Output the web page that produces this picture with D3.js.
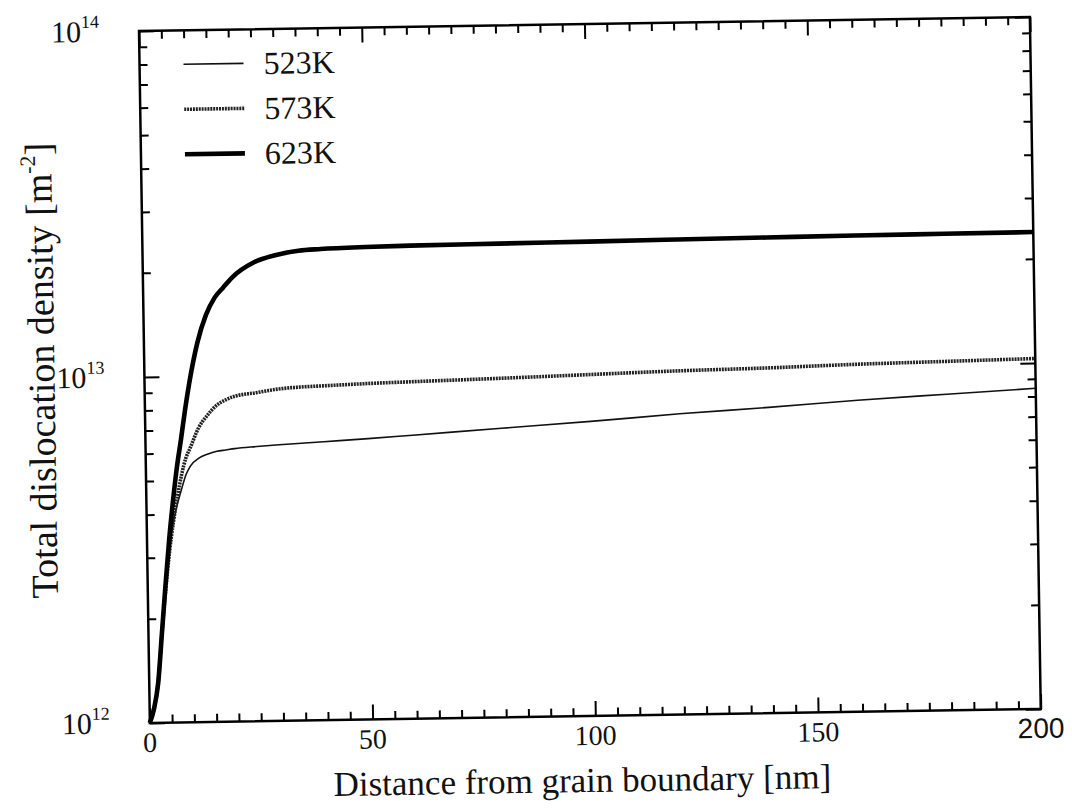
<!DOCTYPE html>
<html>
<head>
<meta charset="utf-8">
<script src="https://cdn.jsdelivr.net/npm/d3@7/dist/d3.min.js"></script>
<style>
  html, body { margin: 0; padding: 0; background: #fff; }
  svg { display: block; }
  text { font-family: "Liberation Serif", "Times New Roman", serif; fill: #111; }
</style>
</head>
<body>
<svg id="chart" width="1072" height="808"></svg>
<script>
// Distance from the grain boundary [nm]
const distance = [0, 1, 2, 3, 4, 5, 6, 7, 8, 9, 10, 12, 14, 16, 18, 20, 25, 30, 35, 40, 50, 60, 80, 100, 120, 140, 160, 180, 200];

// Total dislocation density, in units of 1e12 m^-2
const rho523 = [1.0, 1.1, 1.3, 1.8, 2.4, 3.1, 3.8, 4.3, 4.75, 5.2, 5.5, 5.8, 5.95, 6.05, 6.1, 6.15, 6.22, 6.28, 6.33, 6.38, 6.48, 6.6, 6.85, 7.1, 7.4, 7.65, 7.95, 8.2, 8.45];
const rho573 = [1.0, 1.1, 1.3, 1.8, 2.4, 3.1, 3.8, 4.5, 5.2, 5.8, 6.2, 7.1, 7.7, 8.2, 8.5, 8.7, 8.9, 9.1, 9.2, 9.25, 9.35, 9.42, 9.55, 9.7, 9.85, 9.95, 10.1, 10.2, 10.3];
const rho623 = [1.0, 1.1, 1.3, 1.8, 2.5, 3.4, 4.4, 5.5, 6.6, 8.0, 9.5, 12.5, 15.0, 16.8, 18.0, 19.2, 21.2, 22.2, 22.8, 23.0, 23.2, 23.3, 23.4, 23.5, 23.6, 23.7, 23.8, 23.85, 23.9];
const densityUnit = 1e12;

const seriesNames = ["523K", "573K", "623K"];
const xMajorTicks = [0, 50, 100, 150, 200];
const yDecades = [12, 13, 14];

const xLabel = "Distance from grain boundary [nm]";
const yLabel = "Total dislocation density [m";

// ---- layout -------------------------------------------------------------
const W = 891, H = 692;          // plot frame
const originX = 139, originY = 31;
const tilt = -0.9;               // the figure sits slightly askew

const svg = d3.select("#chart");
const g = svg.append("g")
  .attr("transform", `translate(${originX},${originY}) rotate(${tilt})`);

const x = d3.scaleLinear().domain([0, 200]).range([0, W]);
const y = d3.scaleLog().domain([1e12, 1e14]).range([H, 0]);

// ---- ticks (all pointing inward) ---------------------------------------
const xMinor = d3.range(0, 201, 5).filter(v => v % 50 !== 0);
const yMinor = [];
yDecades.slice(0, -1).forEach(d => { for (let k = 2; k <= 9; k++) yMinor.push(k * Math.pow(10, d)); });
const yMajor = yDecades.map(d => Math.pow(10, d));

const minorLen = 8, majorLen = 15;

function tickAxis(axisFn, scale, values, len, transform) {
  const a = g.append("g").attr("transform", transform)
    .call(axisFn(scale).tickValues(values).tickSize(len).tickFormat(""));
  a.select(".domain").remove();
  a.selectAll("line").attr("stroke", "#000").attr("stroke-width", 2);
}
tickAxis(d3.axisBottom, x, xMinor, -minorLen, `translate(0,${H})`);
tickAxis(d3.axisBottom, x, xMajorTicks, -majorLen, `translate(0,${H})`);
tickAxis(d3.axisTop, x, xMinor, -minorLen, `translate(0,0)`);
tickAxis(d3.axisTop, x, xMajorTicks, -majorLen, `translate(0,0)`);
tickAxis(d3.axisLeft, y, yMinor, -minorLen, `translate(0,0)`);
tickAxis(d3.axisLeft, y, yMajor, -majorLen, `translate(0,0)`);
tickAxis(d3.axisRight, y, yMinor, -minorLen, `translate(${W},0)`);
tickAxis(d3.axisRight, y, yMajor, -majorLen, `translate(${W},0)`);

// frame
g.append("rect").attr("x", 0).attr("y", 0).attr("width", W).attr("height", H)
  .attr("fill", "none").attr("stroke", "#000").attr("stroke-width", 2.5);

// ---- curves ---------------------------------------------------------------
const styles = {
  "523K": { width: 1.6, color: "#111", dash: null },
  "573K": { width: 3.6, color: "#222", dash: "2,0.9" },
  "623K": { width: 4.6, color: "#000", dash: null }
};
const seriesValues = { "523K": rho523, "573K": rho573, "623K": rho623 };

const line = d3.line()
  .x(d => x(d[0]))
  .y(d => y(d[1]))
  .curve(d3.curveMonotoneX);

seriesNames.forEach(name => {
  const pts = distance.map((d, i) => [d, seriesValues[name][i] * densityUnit]);
  const s = styles[name];
  g.append("path")
    .attr("d", line(pts))
    .attr("fill", "none")
    .attr("stroke", s.color)
    .attr("stroke-width", s.width)
    .attr("stroke-linejoin", "round")
    .attr("stroke-dasharray", s.dash);
});

// ---- legend -------------------------------------------------------------
const legend = g.append("g").attr("transform", "translate(44,34)");
seriesNames.forEach((name, i) => {
  const s = styles[name];
  const row = legend.append("g").attr("transform", `translate(0,${i * 45})`);
  row.append("line").attr("x1", 0).attr("x2", 60).attr("y1", 0).attr("y2", 0)
    .attr("stroke", s.color).attr("stroke-width", s.width)
    .attr("stroke-dasharray", s.dash);
  row.append("text").attr("x", 80).attr("y", 11)
    .attr("font-size", 32).text(name);
});

// ---- tick labels -----------------------------------------------------------
xMajorTicks.forEach(v => {
  g.append("text")
    .attr("x", x(v)).attr("y", H + 29)
    .attr("text-anchor", "middle")
    .attr("font-size", 28)
    .style("font-family", v === 200 ? '"Liberation Sans", Arial, sans-serif' : null)
    .text(v);
});

yDecades.forEach(d => {
  const t = g.append("text")
    .attr("x", -40).attr("y", y(Math.pow(10, d)) + 10)
    .attr("text-anchor", "end")
    .attr("font-size", 30);
  t.append("tspan").text("10");
  t.append("tspan").attr("dy", -14).attr("font-size", 18).text(d);
});

// ---- axis titles ---------------------------------------------------------
g.append("text")
  .attr("x", W / 2 - 14).attr("y", H + 76)
  .attr("text-anchor", "middle")
  .attr("font-size", 35)
  .text(xLabel);

const yt = g.append("text")
  .attr("transform", `translate(-90,${H / 2 - 8}) rotate(-90)`)
  .attr("text-anchor", "middle")
  .attr("font-size", 38);
yt.append("tspan").text(yLabel);
yt.append("tspan").attr("dy", -16).attr("font-size", 22).text("-2");
yt.append("tspan").attr("dy", 16).text("]");
</script>
</body>
</html>
